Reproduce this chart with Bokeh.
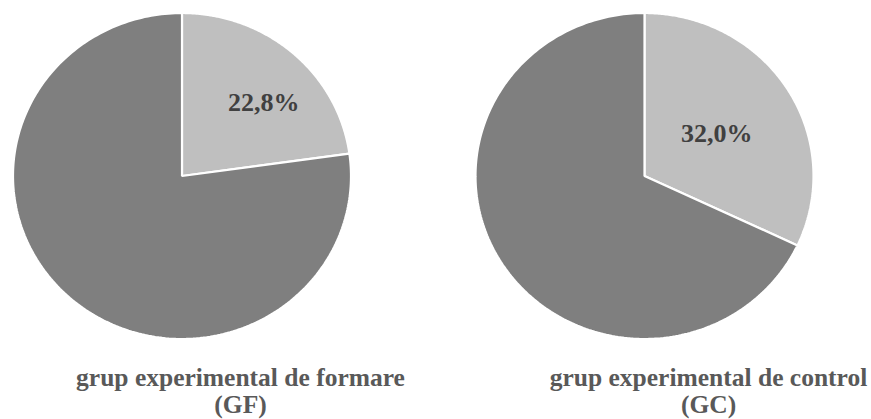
import numpy as np
from bokeh.plotting import figure
from bokeh.models import Range1d, ColumnDataSource
from bokeh.core.properties import value
from bokeh.embed import file_html
from bokeh.resources import INLINE

# Share of respondents per group (percent); the first slice is the labelled one
groups = ["GF", "GC"]
group_titles = ["grup experimental de formare", "grup experimental de control"]
gf_values = [22.8, 77.2]
gc_values = [32.0, 68.0]
slice_colors = ["#bfbfbf", "#7f7f7f"]

# Layout (data units: one unit = pie radius)
RX, RY = 169.0, 163.0            # pixel size of one unit along x / y
W, H = 871, 419
pie_cx = [0.0, (644 - 181.5) / RX]
title_cx = [(240 - 181.5) / RX, (708 - 181.5) / RX]
title_py = [377, 404]            # vertical middle of the two title lines, px from top
label_r = [0.66, 0.50]
label_shift = [6.0, 1.0]         # degrees, nudges the label along the arc

p = figure(width=W, height=H, output_backend="svg", toolbar_location=None,
           x_range=Range1d(-181.5 / RX, (W - 181.5) / RX),
           y_range=Range1d(-(H - 175.5) / RY, 175.5 / RY),
           min_border=0, outline_line_color=None, background_fill_color="white",
           border_fill_color="white")
p.axis.visible = False
p.grid.visible = False

label_font = value("Liberation Serif")

for k, vals in enumerate([gf_values, gc_values]):
    cx = pie_cx[k]
    fr = np.array(vals) / np.sum(vals)
    edges = np.concatenate([[0.0], np.cumsum(fr)]) * 2 * np.pi  # clockwise from 12 o'clock
    xs, ys = [], []
    for i in range(len(vals)):
        t = np.linspace(edges[i], edges[i + 1], 240)
        xs.append(np.concatenate([[cx], cx + np.sin(t), [cx]]).tolist())
        ys.append(np.concatenate([[0.0], np.cos(t), [0.0]]).tolist())
    p.patches(xs=xs, ys=ys, fill_color=slice_colors[:len(vals)],
              line_color="white", line_width=2.2)

    # value label on the first slice
    mid = (edges[0] + edges[1]) / 2 + np.radians(label_shift[k])
    src = ColumnDataSource(dict(x=[cx + label_r[k] * np.sin(mid)],
                                y=[label_r[k] * np.cos(mid)],
                                t=[f"{vals[0]:.1f}%".replace(".", ",")]))
    p.text(x="x", y="y", text="t", source=src, text_font=label_font,
           text_font_style="bold", text_font_size="26px", text_color="#404040",
           text_align="center", text_baseline="middle")

    # group title below each pie
    tsrc = ColumnDataSource(dict(x=[title_cx[k], title_cx[k]],
                                 y=[(175.5 - py) / RY for py in title_py],
                                 t=[group_titles[k], f"({groups[k]})"]))
    p.text(x="x", y="y", text="t", source=tsrc, text_font=label_font,
           text_font_style="bold", text_font_size="25.5px", text_color="#595959",
           text_align="center", text_baseline="middle")

open("out.html", "w").write(file_html(p, INLINE))
